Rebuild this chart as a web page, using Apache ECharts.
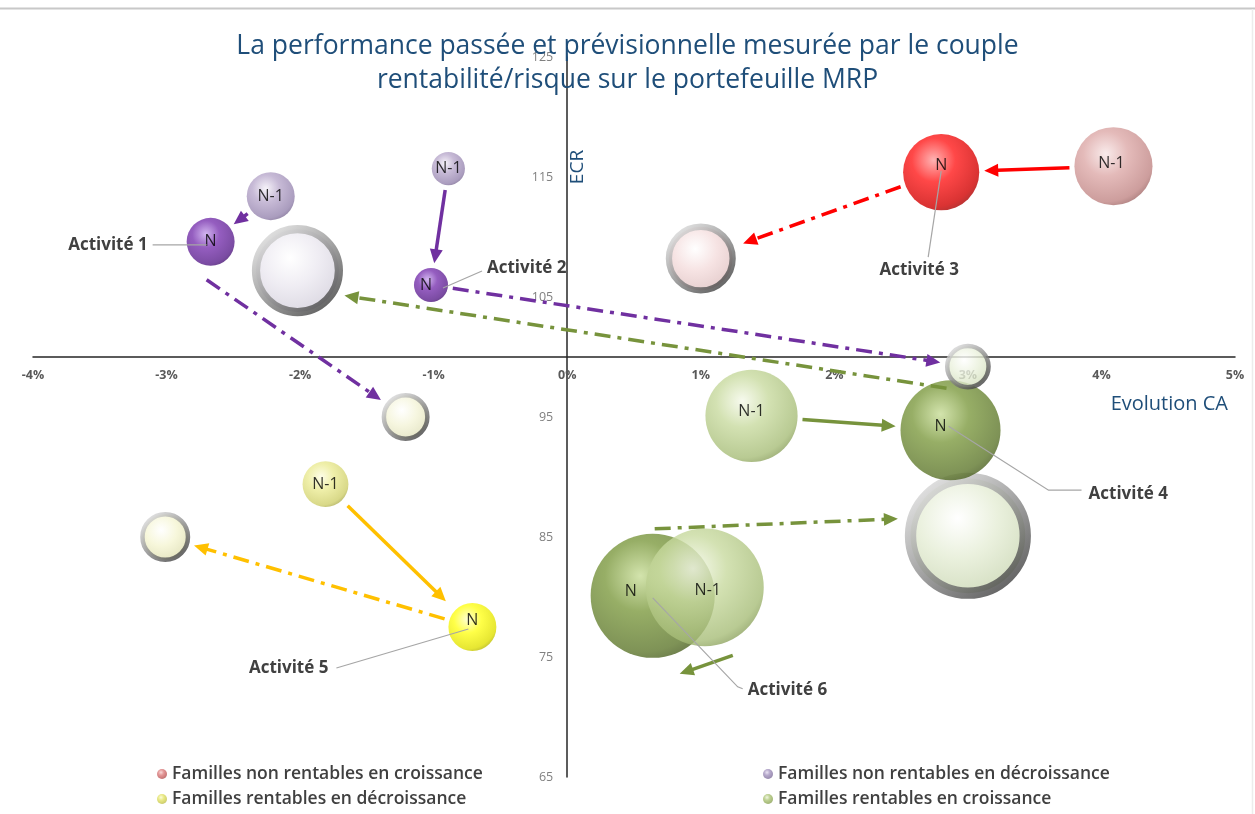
<!DOCTYPE html>
<html lang="fr">
<head>
<meta charset="utf-8">
<title>Rentabilité / risque – portefeuille MRP</title>
<script src="https://cdn.jsdelivr.net/npm/echarts@6/dist/echarts.min.js"></script>
<style>
  html, body { margin: 0; padding: 0; background: #fff; }
  #chart { width: 1255px; height: 814px; }
</style>
</head>
<body>
<div id="chart"></div>
<script>
// ---- Données du portefeuille MRP ----
const activites = ['Activité 1', 'Activité 2', 'Activité 3', 'Activité 4', 'Activité 5', 'Activité 6'];

// Exercice N-1 : évolution du CA (%), ECR, poids de l'activité
const evolN1  = [-2.22, -0.89, 4.09, 1.38, -1.81, 1.03];
const ecrN1   = [113.4, 115.7, 115.9, 95.1, 89.4, 80.8];
const poidsN1 = [23, 11, 61, 85, 21, 139];

// Exercice N
const evolN  = [-2.67, -1.02, 2.80, 2.87, -0.71, 0.64];
const ecrN   = [109.6, 106.0, 115.4, 93.9, 77.5, 80.1];
const poidsN = [23, 11.6, 58, 100, 23, 154];

// Prévisionnel
const evolPrev  = [-1.21, 3.00, 1.00, -2.02, -3.01, 3.00];
const ecrPrev   = [95.0, 99.2, 108.2, 107.2, 85.0, 85.1];
const poidsPrev = [23, 21, 49, 83, 25, 159];

// Familles (légende) et rattachement de chaque activité
const familles = [
  'Familles non rentables en croissance',
  'Familles non rentables en décroissance',
  'Familles rentables en décroissance',
  'Familles rentables en croissance'
];
const familleActivite = [1, 1, 0, 3, 2, 3];
const etiquetteN1 = 'N-1';
const etiquetteN = 'N';

// Axes
const ecrPivot = 100;            // l'axe horizontal croise l'ECR à 100
const ecrMin = 65, ecrMax = 125, ecrPas = 10;
const evolMin = -4, evolMax = 5, evolPas = 1;

const titre = 'La performance passée et prévisionnelle mesurée par le couple\nrentabilité/risque sur le portefeuille MRP';

// ---- Mise en page ----
const W = 1255, H = 814;
const grille = { left: 33, right: 20, top: 57, bottom: 37 };
const largeurGrille = W - grille.left - grille.right;
const hauteurGrille = H - grille.top - grille.bottom;
// décalage des axes pour qu'ils se croisent en (0 %, ECR 100)
const decalageX = -(ecrPivot - ecrMin) / (ecrMax - ecrMin) * hauteurGrille;
const decalageY = -(0 - evolMin) / (evolMax - evolMin) * largeurGrille;

const FONT = '"Open Sans", "Noto Sans", sans-serif';
const diametre = p => Math.sqrt(p) * 10;

function sphere(c) {
  return { type: 'radial', x: 0.4, y: 0.34, r: 0.75, colorStops: [
    { offset: 0, color: c[0] }, { offset: 0.38, color: c[1] },
    { offset: 0.82, color: c[2] }, { offset: 1, color: c[3] } ] };
}
function interieur(c) {
  return { type: 'radial', x: 0.42, y: 0.36, r: 0.7, colorStops: [
    { offset: 0, color: c[0] }, { offset: 0.45, color: c[1] }, { offset: 1, color: c[2] } ] };
}
const anneau = { type: 'linear', x: 0, y: 0, x2: 0.8, y2: 1, colorStops: [
  { offset: 0, color: '#f2f2f2' }, { offset: 0.45, color: '#a0a0a0' }, { offset: 1, color: '#363636' } ] };

const VIOLET = ['#c7a3ec', '#7a35b0', '#5a1f8c', '#3a0c62'];
const LAVANDE = ['#f4f0f8', '#b9a9cc', '#9584ae', '#6a5a82'];
const ROUGE = ['#ffa0a0', '#ff1a1a', '#d00000', '#8c0000'];
const ROSE = ['#f8e6e6', '#dda9a8', '#c08584', '#8a5453'];
const OLIVE = ['#c8dd98', '#7d9a40', '#5e772c', '#3f5219'];
const VERT_CLAIR = ['#f5f9ea', '#c8da9f', '#a7bd78', '#7a8f4c'];
const JAUNE = ['#ffffc8', '#ffff1a', '#e0e000', '#9c9c00'];
const JAUNE_PALE = ['#fdfde2', '#ebeb94', '#cfcf6b', '#94943a'];

const styles = [
  { n: VIOLET, n1: LAVANDE, prev: ['#ffffff', '#f4f4d8', '#dcdcb4'], nOff: [0, 0], n1Off: [0, 0] },
  { n: VIOLET, n1: LAVANDE, prev: ['#ffffff', '#eaf1dc', '#cddab4'], nOff: [-5, 0], n1Off: [0, 0] },
  { n: ROUGE, n1: ROSE, prev: ['#ffffff', '#f4dcdc', '#dabbbb'], nOff: [0, -7], n1Off: [-2, -3] },
  { n: OLIVE, n1: VERT_CLAIR, prev: ['#ffffff', '#ebe8f0', '#cdc9d6'], nOff: [-10, -4], n1Off: [0, -4] },
  { n: JAUNE, n1: JAUNE_PALE, prev: ['#ffffff', '#f5f5d2', '#dadaaa'], nOff: [0, -7], n1Off: [0, 0] },
  { n: OLIVE, n1: VERT_CLAIR, prev: ['#ffffff', '#e5edd5', '#c3d1aa'], nOff: [-22, -4], n1Off: [3, 3] }
];
const legendeSpheres = [
  ['#f6d0d0', '#dc7d7d', '#bb5555', '#8a3333'],
  ['#e6ddf0', '#a595c0', '#83729f', '#5c4c78'],
  ['#fbfbd0', '#e4e46a', '#c6c64a', '#8c8c22'],
  ['#eef5dc', '#afc77a', '#8ea656', '#627a30']
];
const couleursFleches = ['#7030a0', '#7030a0', '#ff0000', '#77933c', '#ffc000', '#77933c'];

// ---- Bulles, regroupées par famille ----
const parFamille = familles.map(() => []);
activites.forEach((nom, i) => {
  const f = familleActivite[i];
  const st = styles[i];
  const dPrev = diametre(poidsPrev[i]);
  const ep = Math.max(4.5, dPrev * 0.09);
  parFamille[f].push({ ordre: 0, item: {
    name: nom + ' – prévisionnel',
    value: [evolPrev[i], ecrPrev[i] - ecrPivot, poidsPrev[i]],
    symbolSize: dPrev - ep,
    itemStyle: { color: interieur(st.prev), borderColor: anneau, borderWidth: ep },
    label: { show: false }
  }});
  parFamille[f].push({ ordre: 1, item: {
    name: nom + ' – N',
    value: [evolN[i], ecrN[i] - ecrPivot, poidsN[i]],
    symbolSize: diametre(poidsN[i]),
    itemStyle: { color: sphere(st.n) },
    label: { show: true, formatter: etiquetteN, offset: st.nOff }
  }});
  parFamille[f].push({ ordre: 2, item: {
    name: nom + ' – N-1',
    value: [evolN1[i], ecrN1[i] - ecrPivot, poidsN1[i]],
    symbolSize: diametre(poidsN1[i]),
    itemStyle: { color: sphere(st.n1) },
    label: { show: true, formatter: etiquetteN1, offset: st.n1Off }
  }});
});

const ordreSeries = [3, 0, 2, 1];
const seriesBulles = ordreSeries.map(f => ({
  type: 'scatter',
  name: familles[f],
  z: 2,
  itemStyle: { color: sphere(legendeSpheres[f]) },
  label: { position: 'inside', color: '#000', fontSize: 16, fontFamily: FONT },
  emphasis: { disabled: true },
  data: parFamille[f].sort((a, b) => a.ordre - b.ordre).map(d => d.item)
}));

// ---- Flèches : N-1 -> N (trait plein), N -> prévisionnel (trait mixte) ----
const reglagesFleches = {
  '0-mixte': { debut: [-4, 38], ecartFin: 6 },
  '3-mixte': { debut: [-4, -42], pointe: [47, 25] },
  '5-mixte': { debut: [2, -67], pointe: [-70, -17] },
  '5-plein': { debut: [28, 68], pointe: [27, 78] },
  '4-plein': { ecartDebut: 8, ecartFin: 13 },
  '2-mixte': { ecartFin: 10 }
};
const flechesMeta = [];
const flechesData = [];
activites.forEach((nom, i) => {
  flechesMeta.push({ cle: i + '-plein', i, mixte: false });
  flechesData.push([evolN1[i], ecrN1[i] - ecrPivot, evolN[i], ecrN[i] - ecrPivot, poidsN1[i], poidsN[i]]);
  flechesMeta.push({ cle: i + '-mixte', i, mixte: true });
  flechesData.push([evolN[i], ecrN[i] - ecrPivot, evolPrev[i], ecrPrev[i] - ecrPivot, poidsN[i], poidsPrev[i]]);
});

function unite(a, b) {
  const dx = b[0] - a[0], dy = b[1] - a[1];
  const l = Math.hypot(dx, dy) || 1;
  return [dx / l, dy / l];
}

function dessinerFleche(params, api) {
  const m = flechesMeta[params.dataIndex];
  const r = reglagesFleches[m.cle] || {};
  const p = api.coord([api.value(0), api.value(1)]);
  const q = api.coord([api.value(2), api.value(3)]);
  const rp = diametre(api.value(4)) / 2;
  const rq = diametre(api.value(5)) / 2;
  let s, t;
  if (r.debut) s = [p[0] + r.debut[0], p[1] + r.debut[1]];
  else {
    const u = unite(p, q);
    const g = rp + (r.ecartDebut != null ? r.ecartDebut : 5);
    s = [p[0] + u[0] * g, p[1] + u[1] * g];
  }
  if (r.pointe) t = [q[0] + r.pointe[0], q[1] + r.pointe[1]];
  else {
    const u = unite(s, q);
    const g = rq + (r.ecartFin != null ? r.ecartFin : 5);
    t = [q[0] - u[0] * g, q[1] - u[1] * g];
  }
  const u = unite(s, t);
  const L = 14, Wd = 6.5;
  const b = [t[0] - u[0] * L, t[1] - u[1] * L];
  const n = [-u[1], u[0]];
  const couleur = couleursFleches[m.i];
  return {
    type: 'group',
    children: [
      { type: 'line', shape: { x1: s[0], y1: s[1], x2: b[0] + u[0], y2: b[1] + u[1] },
        style: { stroke: couleur, lineWidth: 3.5, lineDash: m.mixte ? [16, 7, 4, 7] : null, lineCap: 'butt' } },
      { type: 'polygon', shape: { points: [t, [b[0] + n[0] * Wd, b[1] + n[1] * Wd], [b[0] - n[0] * Wd, b[1] - n[1] * Wd]] },
        style: { fill: couleur } }
    ]
  };
}

// ---- Étiquettes des activités avec trait de rappel (depuis la bulle N) ----
const placementEtiquettes = [
  { trait: [[-4, 3], [-58, 3]], texte: [-63, 3], align: 'right' },
  { trait: [[12, 3], [51, -14]], texte: [56, -17], align: 'left' },
  { trait: [[0, -1], [-13, 85]], texte: [-22, 98], align: 'center' },
  { trait: [[-2, -4], [98, 60], [131, 60]], texte: [138, 64], align: 'left' },
  { trait: [[-4, 2], [-136, 41]], texte: [-144, 41], align: 'right' },
  { trait: [[0, 2], [85, 91], [90, 93]], texte: [95, 94], align: 'left' }
];

function dessinerEtiquette(params, api) {
  const i = params.dataIndex;
  const c = api.coord([api.value(0), api.value(1)]);
  const pl = placementEtiquettes[i];
  return {
    type: 'group',
    children: [
      { type: 'polyline', shape: { points: pl.trait.map(d => [c[0] + d[0], c[1] + d[1]]) },
        style: { stroke: '#a6a6a6', lineWidth: 1.2, fill: null } },
      { type: 'text', x: c[0] + pl.texte[0], y: c[1] + pl.texte[1],
        style: { text: activites[i], fill: '#404040', fontSize: 17, fontWeight: 'bold', fontFamily: FONT,
                 align: pl.align, verticalAlign: 'middle' } }
    ]
  };
}

const legendeCommune = {
  orient: 'vertical',
  top: 764,
  padding: 0,
  icon: 'circle',
  itemWidth: 10,
  itemHeight: 10,
  itemGap: 5,
  selectedMode: false,
  textStyle: { color: '#404040', fontSize: 17.5, fontWeight: 600, fontFamily: FONT, lineHeight: 20 }
};

const option = {
  backgroundColor: '#ffffff',
  animation: false,
  title: {
    text: titre,
    left: 'center',
    top: 24,
    textStyle: { color: '#1f4e79', fontSize: 26.5, fontWeight: 'normal', fontFamily: FONT, lineHeight: 34 }
  },
  legend: [
    Object.assign({ left: 157, data: [familles[0], familles[2]] }, legendeCommune),
    Object.assign({ left: 763, data: [familles[1], familles[3]] }, legendeCommune)
  ],
  grid: grille,
  xAxis: {
    type: 'value',
    min: evolMin, max: evolMax, interval: evolPas,
    offset: decalageX,
    axisLine: { onZero: false, lineStyle: { color: '#262626', width: 1.5 } },
    axisTick: { show: false },
    splitLine: { show: false },
    axisLabel: { formatter: v => Math.round(v) + '%', color: '#595959', fontSize: 12.5, fontWeight: 'bold',
                 fontFamily: FONT, margin: 12 }
  },
  yAxis: {
    type: 'value',
    min: ecrMin - ecrPivot, max: ecrMax - ecrPivot, interval: ecrPas,
    offset: decalageY,
    axisLine: { onZero: false, lineStyle: { color: '#262626', width: 1.5 } },
    axisTick: { show: false },
    splitLine: { show: false },
    axisLabel: { formatter: v => String(Math.round(v + ecrPivot)), color: '#808080', fontSize: 12.5,
                 fontFamily: FONT, margin: 14 }
  },
  graphic: [
    { type: 'line', shape: { x1: 0, y1: 8.5, x2: W, y2: 8.5 }, style: { stroke: '#c8c8c8', lineWidth: 2 }, silent: true },
    { type: 'line', shape: { x1: 1252.5, y1: 9, x2: 1252.5, y2: H }, style: { stroke: '#ececec', lineWidth: 1.5 }, silent: true },
    { type: 'text', x: 578, y: 167, rotation: Math.PI / 2,
      style: { text: 'ECR', fill: '#1f4e79', fontSize: 19, fontFamily: FONT, align: 'center', verticalAlign: 'middle' } },
    { type: 'text', x: 1228, y: 404,
      style: { text: 'Evolution CA', fill: '#1f4e79', fontSize: 20, fontFamily: FONT, align: 'right', verticalAlign: 'middle' } }
  ],
  series: seriesBulles.concat([
    {
      type: 'custom',
      name: 'flèches',
      z: 3,
      silent: true,
      renderItem: dessinerFleche,
      encode: { x: [0, 2], y: [1, 3] },
      data: flechesData
    },
    {
      type: 'custom',
      name: 'activités',
      z: 4,
      silent: true,
      renderItem: dessinerEtiquette,
      encode: { x: 0, y: 1 },
      data: activites.map((n, i) => [evolN[i], ecrN[i] - ecrPivot])
    }
  ])
};

const chart = echarts.init(document.getElementById('chart'), null, { renderer: 'canvas' });
chart.setOption(option);
</script>
</body>
</html>
